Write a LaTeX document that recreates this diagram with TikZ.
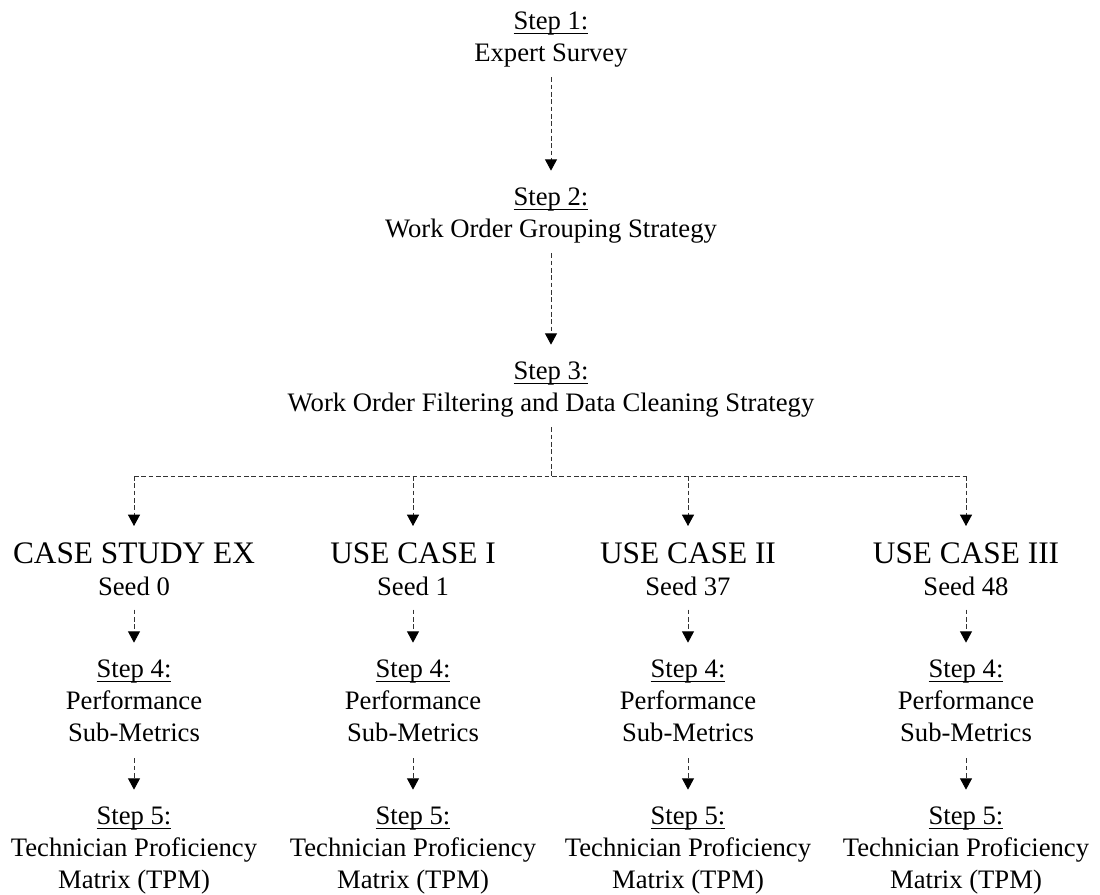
\documentclass[tikz,border=0pt]{standalone}
\usepackage{fontspec}
\setmainfont{Liberation Serif}
\usetikzlibrary{arrows.meta}

\tikzset{
  stepnode/.style={align=center, inner sep=0pt, anchor=north, font=\fontsize{20}{24}\selectfont},
  casenode/.style={align=center, inner sep=0pt, anchor=north, font=\fontsize{20}{24}\selectfont},
  flowline/.style={draw=black!80, line width=0.7pt, dash pattern=on 3.5pt off 2pt},
  flow/.style={flowline, -{Triangle[width=9pt, length=8.5pt, color=black]}},
}
\newcommand{\stepno}[1]{\setbox0\hbox{Step #1:}\rlap{\rule[-2.6pt]{\wd0}{0.6pt}}\box0}
\newcommand{\casehead}[1]{{\fontsize{23.5}{28}\selectfont #1}}

\begin{document}
\begin{tikzpicture}[x=0.75pt, y=-0.75pt]
  \useasboundingbox (0,0) rectangle (1100,895);
  \node[stepnode] (s1) at (551,12) {\stepno{1}\\Expert Survey};
  \node[stepnode] (s2) at (551,188) {\stepno{2}\\Work Order Grouping Strategy};
  \node[stepnode] (s3) at (551,362) {\stepno{3}\\Work Order Filtering and Data Cleaning Strategy};
  \coordinate (split) at (551,476);
  \coordinate (splitl) at (134,476);
  \coordinate (splitr) at (966,476);
  \node[casenode] (c1) at (134,542) {\casehead{CASE STUDY EX}\\Seed 0};
  \node[casenode] (c2) at (413,542) {\casehead{USE CASE I}\\Seed 1};
  \node[casenode] (c3) at (688,542) {\casehead{USE CASE II}\\Seed 37};
  \node[casenode] (c4) at (966,542) {\casehead{USE CASE III}\\Seed 48};
  \node[stepnode] (p1) at (134,660) {\stepno{4}\\Performance\\Sub-Metrics};
  \node[stepnode] (p2) at (413,660) {\stepno{4}\\Performance\\Sub-Metrics};
  \node[stepnode] (p3) at (688,660) {\stepno{4}\\Performance\\Sub-Metrics};
  \node[stepnode] (p4) at (966,660) {\stepno{4}\\Performance\\Sub-Metrics};
  \node[stepnode] (t1) at (134,807) {\stepno{5}\\Technician Proficiency\\Matrix (TPM)};
  \node[stepnode] (t2) at (413,807) {\stepno{5}\\Technician Proficiency\\Matrix (TPM)};
  \node[stepnode] (t3) at (688,807) {\stepno{5}\\Technician Proficiency\\Matrix (TPM)};
  \node[stepnode] (t4) at (966,807) {\stepno{5}\\Technician Proficiency\\Matrix (TPM)};
  % arrows
  \draw[flow, shorten <=7pt, shorten >=13pt] (s1) -- (s2);
  \draw[flow, shorten <=7pt, shorten >=13pt] (s2) -- (s3);
  \draw[flowline, shorten <=7pt] (s3) -- (split);
  \draw[flowline] (splitl) -- (splitr);
  \draw[flow, shorten >=12pt] (splitl) -- (c1);
  \draw[flow, shorten >=12pt] (split -| c2) -- (c2);
  \draw[flow, shorten >=12pt] (split -| c3) -- (c3);
  \draw[flow, shorten >=12pt] (splitr) -- (c4);
  \draw[flow, shorten <=10.5pt, shorten >=13pt] (c1) -- (p1);
  \draw[flow, shorten <=10.5pt, shorten >=13pt] (c2) -- (p2);
  \draw[flow, shorten <=10.5pt, shorten >=13pt] (c3) -- (p3);
  \draw[flow, shorten <=10.5pt, shorten >=13pt] (c4) -- (p4);
  \draw[flow, shorten <=12pt, shorten >=13pt] (p1) -- (t1);
  \draw[flow, shorten <=12pt, shorten >=13pt] (p2) -- (t2);
  \draw[flow, shorten <=12pt, shorten >=13pt] (p3) -- (t3);
  \draw[flow, shorten <=12pt, shorten >=13pt] (p4) -- (t4);
\end{tikzpicture}
\end{document}
